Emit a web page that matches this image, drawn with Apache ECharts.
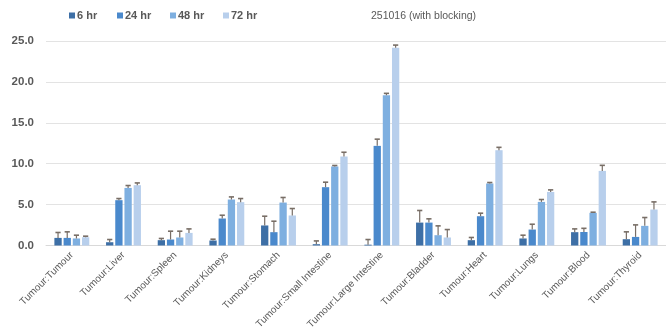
<!DOCTYPE html>
<html>
<head>
<meta charset="utf-8">
<script src="https://cdn.jsdelivr.net/npm/echarts@6/dist/echarts.min.js"></script>
<style>
  html, body { margin: 0; padding: 0; background: #ffffff; }
  #chart { width: 666px; height: 333px; }
</style>
</head>
<body>
<div id="chart"></div>
<script>
// Organ uptake relative to tumour, per time point, with standard-deviation bars
const categories = ['Tumour:Tumour', 'Tumour:Liver', 'Tumour:Spleen', 'Tumour:Kidneys',
  'Tumour:Stomach', 'Tumour:Small Intestine', 'Tumour:Large Intestine', 'Tumour:Bladder',
  'Tumour:Heart', 'Tumour:Lungs', 'Tumour:Blood', 'Tumour:Thyroid'];

const seriesNames = ['6 hr', '24 hr', '48 hr', '72 hr'];

const hr6   = [0.93, 0.40, 0.65, 0.61, 2.45, 0.16, 0.10, 2.80, 0.65, 0.86, 1.63, 0.77];
const err6  = [0.66, 0.33, 0.21, 0.16, 1.13, 0.40, 0.63, 1.48, 0.33, 0.40, 0.40, 0.90];
const hr24  = [0.93, 5.54, 0.73, 3.30, 1.63, 7.13, 12.18, 2.80, 3.58, 1.95, 1.65, 1.05];
const err24 = [0.74, 0.20, 1.02, 0.40, 1.34, 0.61, 0.82, 0.46, 0.37, 0.65, 0.45, 1.47];
const hr48  = [0.86, 7.04, 0.98, 5.62, 5.25, 9.66, 18.37, 1.26, 7.58, 5.33, 3.99, 2.40];
const err48 = [0.40, 0.29, 0.77, 0.32, 0.62, 0.12, 0.23, 1.14, 0.12, 0.29, 0.08, 1.02];
const hr72  = [1.01, 7.37, 1.54, 5.30, 3.67, 10.88, 24.16, 0.98, 11.65, 6.55, 9.12, 4.40];
const err72 = [0.13, 0.28, 0.49, 0.44, 0.85, 0.52, 0.34, 0.97, 0.35, 0.25, 0.68, 0.93];

const yTicks = { min: 0, max: 25, interval: 5 };

const values = [hr6, hr24, hr48, hr72];
const errors = [err6, err24, err48, err72];
const colors = ['#3d6fa6', '#4a89cc', '#7eafe0', '#b8cfec'];
const legendLeft = [64, 112, 165, 218];

const FONT = '"Liberation Sans", Arial, sans-serif';
const BAR_W = 7.3;
const GAP_RATIO = 0.26;

// Horizontal offset of bar k inside its category band
function barOffset(k, n) {
  const pitch = BAR_W * (1 + GAP_RATIO);
  const total = n * BAR_W + (n - 1) * BAR_W * GAP_RATIO;
  return -total / 2 + BAR_W / 2 + k * pitch;
}

// Error bar rows: [categoryIndex, seriesIndex, mean, sd]
const errRows = [];
values.forEach((arr, s) => arr.forEach((v, i) => errRows.push([i, s, v, errors[s][i]])));

const chart = echarts.init(document.getElementById('chart'), null, { renderer: 'canvas' });

const barSeries = seriesNames.map((name, s) => ({
  name: name,
  type: 'bar',
  data: values[s],
  barWidth: BAR_W,
  barGap: (GAP_RATIO * 100) + '%',
  itemStyle: { color: colors[s] },
  emphasis: { disabled: true }
}));

const errorSeries = {
  type: 'custom',
  name: 'sd',
  data: errRows,
  encode: { x: 0, y: 2 },
  z: 5,
  silent: true,
  renderItem: function (params, api) {
    const ci = api.value(0);
    const s = api.value(1);
    const mean = api.value(2);
    const sd = api.value(3);
    const base = api.coord([ci, mean]);
    const top = api.coord([ci, mean + sd]);
    const x = base[0] + barOffset(s, seriesNames.length);
    const cap = 2.6;
    return {
      type: 'group',
      children: [
        { type: 'line', shape: { x1: x, y1: base[1], x2: x, y2: top[1] },
          style: { stroke: '#786e66', lineWidth: 1.2 } },
        { type: 'line', shape: { x1: x - cap, y1: top[1], x2: x + cap, y2: top[1] },
          style: { stroke: '#786e66', lineWidth: 1.6 } }
      ]
    };
  }
};

// One legend block per time point so each entry sits at its own spot
const legends = seriesNames.map((name, s) => ({
  data: [name],
  left: legendLeft[s],
  top: 5,
  itemWidth: 6,
  itemHeight: 6,
  icon: 'rect',
  selectedMode: false,
  textStyle: {
    fontSize: 11,
    fontWeight: 'bold',
    color: '#595959',
    padding: [0, 0, 0, -3],
    fontFamily: FONT
  }
}));

const option = {
  animation: false,
  backgroundColor: '#ffffff',
  textStyle: { fontFamily: FONT },
  title: {
    text: '251016 (with blocking)',
    left: 366,
    top: 6,
    textStyle: { fontSize: 10.5, fontWeight: 'normal', color: '#595959', fontFamily: FONT }
  },
  legend: legends,
  grid: { left: 46, top: 41, width: 626, height: 204.5, containLabel: false },
  xAxis: {
    type: 'category',
    data: categories,
    axisLine: { show: true, lineStyle: { color: '#d9d9d9' } },
    axisTick: { show: false },
    axisLabel: {
      rotate: 45,
      interval: 0,
      margin: 8,
      fontSize: 10,
      color: '#595959',
      fontFamily: FONT
    }
  },
  yAxis: {
    type: 'value',
    min: yTicks.min,
    max: yTicks.max,
    interval: yTicks.interval,
    axisLine: { show: false },
    axisTick: { show: false },
    splitLine: { lineStyle: { color: '#e3e3e3', width: 1 } },
    axisLabel: {
      margin: 12,
      fontSize: 11.5,
      fontWeight: 'bold',
      color: '#595959',
      formatter: v => v.toFixed(1),
      fontFamily: FONT
    }
  },
  series: barSeries.concat([errorSeries])
};

chart.setOption(option);
</script>
</body>
</html>
